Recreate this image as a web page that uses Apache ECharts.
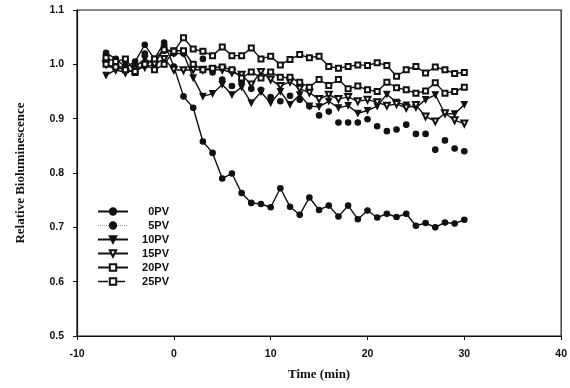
<!DOCTYPE html>
<html><head><meta charset="utf-8">
<script src="https://cdn.jsdelivr.net/npm/echarts@6/dist/echarts.min.js"></script>
<style>html,body{margin:0;padding:0;background:#fff}#c{width:570px;height:388px}</style>
</head><body><div id="c"></div>
<script>
const times = [-7,-6,-5,-4,-3,-2,-1,0,1,2,3,4,5,6,7,8,9,10,11,12,13,14,15,16,17,18,19,20,21,22,23,24,25,26,27,28,29,30];
const pv0  = [1.021,1.010,0.995,1.005,1.036,1.010,1.040,0.996,0.941,0.920,0.858,0.837,0.790,0.799,0.763,0.745,0.743,0.737,0.772,0.738,0.723,0.755,0.732,0.740,0.720,0.740,0.715,0.731,0.718,0.725,0.719,0.725,0.703,0.708,0.700,0.709,0.707,0.714];
const pv5  = [1.010,0.995,0.990,0.995,1.020,1.000,1.025,1.020,1.020,1.000,1.010,0.985,0.972,0.960,0.968,0.955,0.953,0.940,0.932,0.942,0.935,0.923,0.906,0.913,0.893,0.893,0.893,0.899,0.886,0.877,0.880,0.889,0.872,0.872,0.843,0.860,0.845,0.840];
const pv10 = [0.980,0.990,1.000,0.995,1.010,1.000,1.030,1.020,1.020,0.975,0.941,0.946,0.963,0.944,0.958,0.929,0.949,0.929,0.950,0.926,0.944,0.923,0.922,0.932,0.920,0.924,0.910,0.915,0.923,0.945,0.930,0.925,0.920,0.935,0.944,0.909,0.909,0.926];
const pv15 = [1.000,0.990,0.985,0.990,0.995,1.000,1.010,0.990,0.989,0.990,0.990,0.990,0.990,0.985,0.981,0.963,0.986,0.972,0.960,0.968,0.955,0.948,0.936,0.944,0.936,0.940,0.932,0.935,0.930,0.924,0.927,0.920,0.925,0.904,0.895,0.910,0.897,0.891];
const pv20 = [1.000,0.995,0.990,0.985,1.000,0.990,1.000,1.025,1.025,1.000,0.990,0.993,0.995,0.990,0.975,0.986,0.975,0.986,0.976,0.976,0.967,0.958,0.972,0.961,0.972,0.955,0.960,0.953,0.950,0.967,0.957,0.953,0.947,0.951,0.966,0.947,0.950,0.958];
const pv25 = [1.012,1.005,1.010,0.987,1.000,1.010,1.027,1.024,1.049,1.028,1.024,1.016,1.032,1.016,1.016,1.030,1.010,1.015,0.999,1.009,1.018,1.012,1.015,0.996,0.993,0.996,0.999,0.998,1.003,0.998,0.978,0.990,0.996,0.984,0.995,0.990,0.983,0.985];
const seriesNames = ['0PV','5PV','10PV','15PV','20PV','25PV'];
const xTicks = [-10,0,10,20,30,40];
const yTicks = [0.5,0.6,0.7,0.8,0.9,1.0,1.1];

const C = '#111';
const pair = arr => times.map((t,i)=>[t,arr[i]]);
const lineSeries = (name, arr, symbol, size, rotate, extra) => Object.assign({
  name, type:'line', data: pair(arr), symbol, symbolSize:size, symbolRotate: rotate||0,
  showSymbol:true, showAllSymbol:true, lineStyle:{color:C, width:1.4},
  itemStyle:{color:C, borderColor:C, borderWidth:1.1},
  animation:false, z: 3
}, extra||{});

const chart = echarts.init(document.getElementById('c'), null, {renderer:'canvas'});
chart.setOption({
  backgroundColor:'#fff',
  animation:false,
  grid:{left:77, right:6, top:10, bottom:52, show:true, borderColor:C, borderWidth:1.2, backgroundColor:'transparent'},
  xAxis:{type:'value', min:xTicks[0], max:xTicks[xTicks.length-1], interval:10,
    name:'Time (min)', nameLocation:'middle', nameGap:32,
    nameTextStyle:{fontFamily:'Liberation Serif', fontWeight:'bold', fontSize:13, color:C},
    axisLine:{show:true, onZero:false, lineStyle:{color:C, width:1.2}},
    axisTick:{show:true, inside:false, length:4, lineStyle:{color:C}},
    axisLabel:{fontFamily:'Liberation Sans', fontWeight:'bold', fontSize:10.5, color:C, margin:13},
    splitLine:{show:false}},
  yAxis:{type:'value', min:yTicks[0], max:yTicks[yTicks.length-1], interval:0.1,
    name:'Relative Bioluminescence', nameLocation:'middle', nameGap:50,
    nameTextStyle:{fontFamily:'Liberation Serif', fontWeight:'bold', fontSize:13, color:C},
    axisLine:{show:true, onZero:false, lineStyle:{color:C, width:1.2}},
    axisTick:{show:true, inside:false, length:4, lineStyle:{color:C}},
    axisLabel:{fontFamily:'Liberation Sans', fontWeight:'bold', fontSize:10.5, color:C, margin:13,
      formatter: v => v.toFixed(1)},
    splitLine:{show:false}},
  legend:{orient:'vertical', left:92, top:201, itemWidth:30, itemHeight:8, itemGap:3,
    data:[
      {name:'0PV'},
      {name:'5PV', lineStyle:{opacity:1, type:'dotted', color:'#999', width:1}},
      {name:'10PV'},
      {name:'15PV'},
      {name:'20PV'},
      {name:'25PV', lineStyle:{opacity:1, type:[10,3,1,3], color:C, width:1.4}}
    ],
    formatter: n => '{a|' + n + '}',
    textStyle:{color:C, rich:{a:{width:36, align:'right', fontFamily:'Liberation Sans', fontWeight:'bold', fontSize:11, color:C, lineHeight:12}}}
  },
  series:[
    lineSeries(seriesNames[0], pv0, 'circle', 5.5),
    lineSeries(seriesNames[1], pv5, 'circle', 5.5, 0, {lineStyle:{opacity:0, width:0}}),
    lineSeries(seriesNames[2], pv10, 'triangle', 6, 180),
    lineSeries(seriesNames[3], pv15, 'emptyTriangle', 6, 180),
    lineSeries(seriesNames[4], pv20, 'emptyRect', 5),
    lineSeries(seriesNames[5], pv25, 'emptyRect', 5)
  ]
});
</script></body></html>
